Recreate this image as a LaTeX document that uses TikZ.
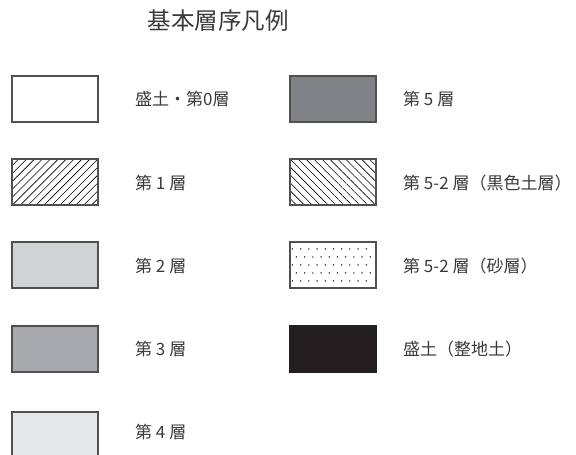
\documentclass[tikz,border=0pt]{standalone}
\usepackage{fontspec}
\setmainfont{Noto Sans CJK JP}
\usetikzlibrary{patterns.meta,calc}
\definecolor{txt}{HTML}{3A3A3A}
\definecolor{edge}{HTML}{505050}
\definecolor{lay2}{HTML}{D1D2D4}
\definecolor{lay3}{HTML}{A7A9AC}
\definecolor{lay4}{HTML}{E6E7E8}
\definecolor{lay5}{HTML}{808285}
\definecolor{fill0}{HTML}{231F20}

\begin{document}
\begin{tikzpicture}[x=1pt, y=1pt]

\tikzstyle{legbox} = [rectangle, draw=edge, line width=1.1pt, minimum width=86pt, minimum height=46pt, inner sep=0pt]
\tikzstyle{legtext} = [anchor=west, inner sep=0pt, text=txt, font=\fontsize{17}{20}\selectfont]

\useasboundingbox (0,0) rectangle (576,-455);

\node[text=txt, font=\fontsize{23.5}{28}\selectfont] (title) at (218,-21) {基本層序凡例};

% left column
\node[legbox, fill=white] (b0) at (55,-99) {};
\node[legbox, pattern={Lines[angle=45, distance=5.6pt, line width=0.6pt]}] (b1) at (55,-182) {};
\node[legbox, fill=lay2] (b2) at (55,-265) {};
\node[legbox, fill=lay3] (b3) at (55,-349) {};
\node[legbox, fill=lay4] (b4) at (55,-435) {};

\node[legtext] (t0) at (135,-99) {盛土・第0層};
\node[legtext] (t1) at (135,-183) {第 1 層};
\node[legtext] (t2) at (135,-266) {第 2 層};
\node[legtext] (t3) at (135,-349) {第 3 層};
\node[legtext] (t4) at (135,-432) {第 4 層};

% right column
\node[legbox, fill=lay5] (b5) at (333,-99) {};
\node[legbox, pattern={Lines[angle=-45, distance=5.6pt, line width=0.6pt]}] (b52) at (333,-182) {};
\node[legbox, fill=white] (bs) at (333,-265) {};
\node[legbox, fill=fill0, draw=fill0] (bf) at (333,-349) {};

\foreach \r in {0,...,4} {
  \pgfmathsetmacro{\sx}{mod(\r,2)*4}
  \foreach \c in {0,...,9} {
    \fill[fill0] ($(bs.north west)+(3+\sx+\c*8.2,-7.5-\r*8)$) circle (0.8pt);
  }
}

\node[legtext] (t5) at (403,-99) {第 5 層};
\node[legtext] (t52) at (403,-183) {第 5-2 層（黒色土層）\kern-0.5em};
\node[legtext] (ts) at (403,-266) {第 5-2 層（砂層）\kern-0.5em};
\node[legtext] (tf) at (403,-349) {盛土（整地土）\kern-0.5em};

\end{tikzpicture}
\end{document}
